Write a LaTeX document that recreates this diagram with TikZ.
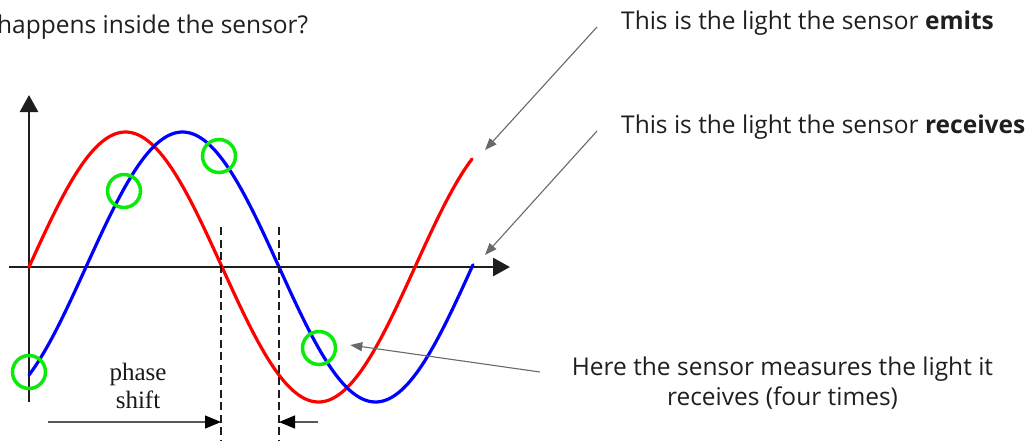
\documentclass[tikz,border=0pt]{standalone}
\usepackage{fontspec}
\setmainfont{Open Sans}
\newfontfamily\phasefont{Liberation Serif}
\usetikzlibrary{arrows.meta,positioning}
\definecolor{emitred}{RGB}{255,0,0}
\definecolor{recvblue}{RGB}{0,0,255}
\definecolor{probegreen}{RGB}{10,235,10}
\definecolor{pointer}{RGB}{105,105,105}
\definecolor{axisgray}{RGB}{30,30,30}

\begin{document}
\begin{tikzpicture}[
    x=1pt, y=-1pt,
    lbl/.style={font=\fontsize{24.5}{30}\selectfont, text=black!88, inner sep=0pt},
    axis/.style={line width=2.8pt, draw=axisgray, -{Triangle[length=17pt,width=18pt]}},
    wave/.style={line width=3.2pt, line join=round, line cap=round},
    probe/.style={circle, draw=probegreen, line width=3.5pt, minimum size=33pt, inner sep=0pt},
    guide/.style={line width=2.7pt, draw=axisgray, dash pattern=on 8pt off 4.5pt},
    arr/.style={-{Triangle[length=12pt,width=9pt]}, line width=1.1pt, draw=pointer},
    shiftarr/.style={-{Triangle[length=16pt,width=13pt,color=black]}, line width=1.1pt, draw=black!65}
]
\useasboundingbox (0,0) rectangle (1035,440);

\draw[axis] (9,267) -- (510,267);
\draw[axis] (29,402) -- (29,95);

\draw[wave, emitred] plot[domain=29:472, samples=150] (\x, {267-135*sin((\x-29)/386*360)});
\draw[wave, recvblue] plot[domain=29:473, samples=150] (\x, {267-135*sin((\x-86)/386*360)});

\node[probe] (p1) at (29,372) {};
\node[probe] (p2) at (124,191) {};
\node[probe] (p3) at (219,156) {};
\node[probe] (p4) at (319,348) {};

\coordinate (redzero) at (221,227);
\coordinate (bluezero) at (279,227);
\draw[guide] (redzero) -- (221,440);
\draw[guide] (bluezero) -- (279,440);

\coordinate (shiftleft) at (48,422);
\coordinate (shiftright) at (318,422);
\draw[shiftarr] (shiftleft) -- (221,422);
\draw[shiftarr] (shiftright) -- (279,422);

\node[font=\phasefont\fontsize{25}{28}\selectfont, align=center, text=black!90] (phase) at (138,386) {phase\\shift};

\node[lbl, anchor=base west] (question) at (-3,33) {happens inside the sensor?};
\node[lbl, anchor=base west] (emits) at (621,29) {This is the light the sensor \textbf{emits}};
\node[lbl, anchor=base west] (receives) at (621,133) {This is the light the sensor \textbf{receives}};
\node[lbl, align=center] (measures) at (782.5,383) {Here the sensor measures the light it\\receives (four times)};

\coordinate (emitfrom) at ([xshift=-24pt,yshift=2pt]emits.base west);
\coordinate (recvfrom) at ([xshift=-24pt,yshift=2pt]receives.base west);
\coordinate (measfrom) at (540,372);
\draw[arr] (emitfrom) -- (485,150);
\draw[arr] (recvfrom) -- (485,255);
\draw[arr] (measfrom) -- ([xshift=13pt,yshift=3pt]p4.east);
\end{tikzpicture}
\end{document}
